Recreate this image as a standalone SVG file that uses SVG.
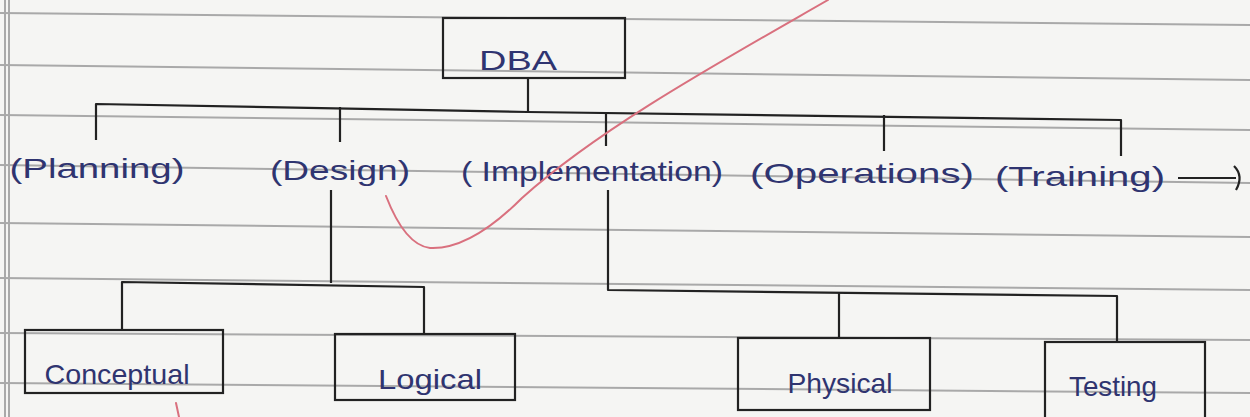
<svg xmlns="http://www.w3.org/2000/svg" width="1250" height="417" viewBox="0 0 1250 417">
<style>
.rule{stroke:#a9a9a9;stroke-width:2;fill:none}
.box{fill:none;stroke:#222;stroke-width:2.2}
.con{fill:none;stroke:#222;stroke-width:2.2;stroke-linejoin:round}
.t{font-family:"Liberation Sans",Arial,sans-serif;fill:#2f3470;font-size:28px;text-anchor:middle}
.red{fill:none;stroke:#d9707e;stroke-width:2;stroke-linecap:round}
</style>
<rect x="0" y="0" width="1250" height="417" fill="#f5f5f3"/>
<g id="paper">
<line class="rule" x1="0" y1="13" x2="1250" y2="25"/>
<line class="rule" x1="0" y1="65" x2="1250" y2="80"/>
<line class="rule" x1="0" y1="115" x2="1250" y2="130"/>
<line class="rule" x1="0" y1="165" x2="1250" y2="183"/>
<line class="rule" x1="0" y1="223" x2="1250" y2="237"/>
<line class="rule" x1="0" y1="278" x2="1250" y2="290"/>
<line class="rule" x1="0" y1="333" x2="1250" y2="340"/>
<line class="rule" x1="0" y1="383" x2="1250" y2="393"/>
<line class="rule" x1="5" y1="0" x2="5" y2="417"/>
<line class="rule" x1="9" y1="0" x2="9" y2="417"/>
</g>
<g id="connectors">
<path class="con" d="M528 78 V112"/>
<path class="con" d="M96 140 V104 L528 112 L1121 120 V156"/>
<path class="con" d="M340 107 V142"/>
<path class="con" d="M606 113 V146"/>
<path class="con" d="M884 115 V151"/>
<path class="con" d="M331 190 V283"/>
<path class="con" d="M122 330 V282 L424 287 V335"/>
<path class="con" d="M608 190 V290 L1117 296 V342"/>
<path class="con" d="M839 293 V338"/>
<path class="con" d="M1178 178 H1236"/>
<path class="con" d="M1234 166 Q1244 176 1236 190"/>
</g>
<g id="DBA">
<rect class="box" x="443" y="18" width="182" height="60"/>
<text class="t" x="518" y="70" textLength="78" lengthAdjust="spacingAndGlyphs">DBA</text>
</g>
<g id="planning"><text class="t" x="97" y="178" font-size="33" textLength="175" lengthAdjust="spacingAndGlyphs">(Planning)</text></g>
<g id="design"><text class="t" x="340" y="180" font-size="33" textLength="140" lengthAdjust="spacingAndGlyphs">(Design)</text></g>
<g id="implementation"><text class="t" x="592" y="181" font-size="33" textLength="262" lengthAdjust="spacingAndGlyphs">( Implementation)</text></g>
<g id="operations"><text class="t" x="862" y="183" font-size="33" textLength="224" lengthAdjust="spacingAndGlyphs">(Operations)</text></g>
<g id="training"><text class="t" x="1080" y="186" font-size="33" textLength="170" lengthAdjust="spacingAndGlyphs">(Training)</text></g>
<g id="conceptual">
<rect class="box" x="25" y="330" width="198" height="63"/>
<text class="t" x="117" y="384" textLength="145" lengthAdjust="spacingAndGlyphs">Conceptual</text>
</g>
<g id="logical">
<rect class="box" x="335" y="334" width="180" height="66"/>
<text class="t" x="430" y="389" textLength="104" lengthAdjust="spacingAndGlyphs">Logical</text>
</g>
<g id="physical">
<rect class="box" x="738" y="338" width="192" height="72"/>
<text class="t" x="840" y="393" textLength="105" lengthAdjust="spacingAndGlyphs">Physical</text>
</g>
<g id="testing">
<rect class="box" x="1045" y="342" width="160" height="80"/>
<text class="t" x="1113" y="396" textLength="88" lengthAdjust="spacingAndGlyphs">Testing</text>
</g>
<g id="marks">
<path class="red" d="M828 0 C720 62 600 128 522 198 Q470 250 430 248 Q405 245 386 196"/>
<path class="red" d="M176 403 L179 417"/>
</g>
</svg>
